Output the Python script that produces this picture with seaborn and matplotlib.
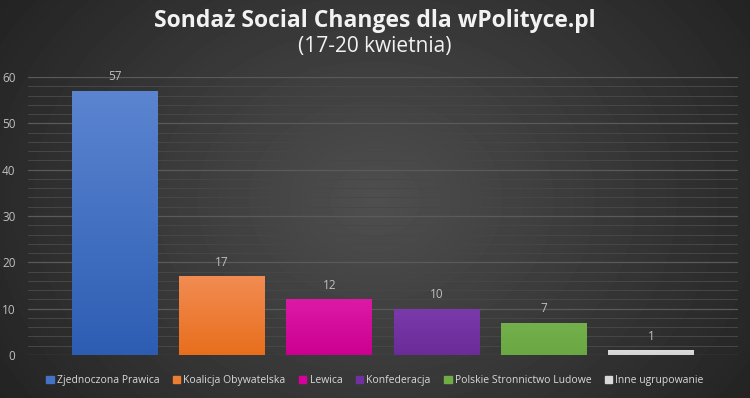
import numpy as np
import pandas as pd
import seaborn as sns
import matplotlib.pyplot as plt
from matplotlib.ticker import MultipleLocator
from matplotlib.colors import LinearSegmentedColormap

# Data
parties = ["Zjednoczona Prawica", "Koalicja Obywatelska", "Lewica",
           "Konfederacja", "Polskie Stronnictwo Ludowe", "Inne ugrupowanie"]
support = [57, 17, 12, 10, 7, 1]
colors = ["#4472c4", "#ed7d31", "#d6009a", "#7030a0", "#70ad47", "#d9d9d9"]
# gradient ends (top, bottom) for each bar
tops = ["#5b85d0", "#f28c52", "#dc1aa6", "#7a3aab", "#74b04c", "#dcdcdc"]
bottoms = ["#2d5db3", "#e86e1c", "#cc0090", "#6a2c98", "#6aa843", "#d4d4d4"]

df = pd.DataFrame({"party": parties, "support": support})

sns.set_theme(style="dark")
plt.rcParams["font.family"] = ["Open Sans", "DejaVu Sans"]

fig = plt.figure(figsize=(7.5, 3.98), dpi=100)

# radial gradient background
bg = fig.add_axes([0, 0, 1, 1], zorder=-10)
yy, xx = np.mgrid[0:398, 0:750]
r = np.sqrt(((xx - 375) / 420.0) ** 2 + ((yy - 200) / 330.0) ** 2)
shade = np.clip(0.31 - 0.16 * r, 0.14, 0.31)
bg.imshow(shade, cmap="gray", vmin=0, vmax=1, aspect="auto", interpolation="bilinear")
bg.axis("off")

ax = fig.add_axes([0.0373, 0.108, 0.9467, 0.6985])
ax.set_facecolor("none")

sns.barplot(data=df, x="party", y="support", hue="party", palette=colors,
            saturation=1, width=0.8, dodge=False, legend=False, ax=ax, zorder=3,
            edgecolor="none")

ax.set_ylim(0, 60)
ax.set_xlim(-0.81, 5.81)

# vertical gradient fill clipped to each bar
grad = np.linspace(1, 0, 256).reshape(-1, 1)
for patch, t, b in zip(ax.patches, tops, bottoms):
    x0, y0 = patch.get_x(), patch.get_y()
    w, h = patch.get_width(), patch.get_height()
    cmap = LinearSegmentedColormap.from_list("g", [b, t])
    im = ax.imshow(grad, cmap=cmap, extent=[x0, x0 + w, y0, y0 + h],
                   aspect="auto", origin="upper", zorder=4)
    im.set_clip_path(patch)
ax.set_xlim(-0.81, 5.81)
ax.set_ylim(0, 60)

for i, v in enumerate(support):
    ax.text(i, v + 1.6, str(v), ha="center", va="bottom", color="#bfbfbf", fontsize=8.5)

ax.yaxis.set_major_locator(MultipleLocator(10))
ax.yaxis.set_minor_locator(MultipleLocator(2))
ax.grid(axis="y", which="major", color="#5a5a5a", linewidth=0.9, zorder=0)
ax.grid(axis="y", which="minor", color="#474747", linewidth=0.7, zorder=0)
ax.grid(axis="x", visible=False)
ax.set_xticks([])
ax.set_xlabel("")
ax.set_ylabel("")
ax.tick_params(axis="y", colors="#bfbfbf", labelsize=8.5, length=0, pad=9)
for s in ax.spines.values():
    s.set_visible(False)

# legend
handles = [plt.Rectangle((0, 0), 1, 1, color=c) for c in colors]
fig.legend(handles, parties, loc="center", bbox_to_anchor=(0.5, 0.043), ncol=6,
           frameon=False, fontsize=7.5, labelcolor="#d9d9d9", handlelength=0.7,
           handleheight=0.7, handletextpad=0.3, columnspacing=1.3)

fig.text(0.5, 0.948, "Sondaż Social Changes dla wPolityce.pl", ha="center", va="center",
         color="#f2f2f2", fontsize=16.5, fontweight="bold")
fig.text(0.5, 0.882, "(17-20 kwietnia)", ha="center", va="center",
         color="#f2f2f2", fontsize=15)

fig.savefig("out.png", dpi=100)
